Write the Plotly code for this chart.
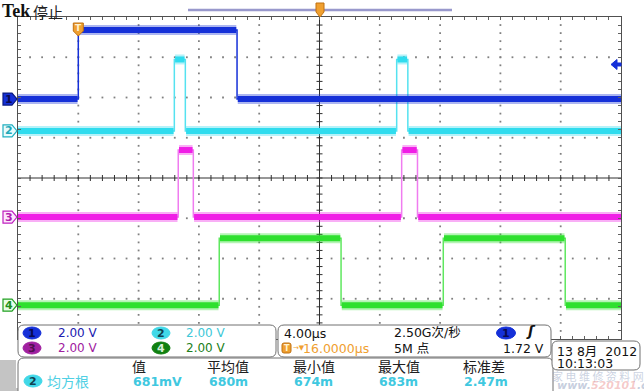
import numpy as np
import plotly.graph_objects as go

# ---------------- data ----------------
T_MIN, T_MAX = -4.0, 36.0      # µs relative to trigger, 10 div x 4.00 µs
TIME_PER_DIV = 4.0
VOLT_PER_DIV = 2.0

ch1_offset = 1.96              # ground marker position, divisions
ch1_edges = [0.0, 10.53]
ch1_levels = [0.0, 3.43, 0.0]

ch2_offset = 1.17
ch2_edges = [6.37, 7.10, 21.12, 21.86]
ch2_levels = [0.0, 3.55, 0.0, 3.55, 0.0]

ch3_offset = -0.97
ch3_edges = [6.63, 7.63, 21.45, 22.50]
ch3_levels = [0.0, 3.33, 0.0, 3.33, 0.0]

ch4_offset = -3.16
ch4_edges = [9.35, 17.43, 24.21, 32.30]
ch4_levels = [0.0, 3.33, 0.0, 3.33, 0.0]

trig_level_v = 1.72
scale_labels = ["2.00 V", "2.00 V", "2.00 V", "2.00 V"]
timebase_label = "4.00µs"
sample_rate_label = "2.50G次/秒"
record_label = "5M 点"
trig_delay_label = "16.0000µs"
trig_level_label = "1.72 V"
meas_headers = ["值", "平均值", "最小值", "最大值", "标准差"]
meas_values = ["681mV", "680m", "674m", "683m", "2.47m"]
meas_name = "均方根"
date_label = "13 8月  2012"
time_label = "10:13:03"

# ---------------- styling ----------------
C1, C2, C3, C4 = "#1530d8", "#2fdcee", "#f01ee6", "#2ee02e"
C1_edge, C2_edge, C3_edge, C4_edge = "#1530d8", "#55e2f0", "#f07cf0", "#5fe85f"
ORANGE = "#f0a030"
SANS = "DejaVu Sans, Noto Sans CJK SC"
CJK = "Noto Sans CJK SC"

L, R, T, B = 18, 621, 17, 339
W, H = 644, 391


def X(px):
    return (px - L) / (R - L)


def Y(py):
    return (B - py) / (B - T)


def step_xy(edges, levels, offset):
    t = [T_MIN]
    v = [levels[0]]
    for e, a, b in zip(edges, levels[:-1], levels[1:]):
        t += [e, e]
        v += [a, b]
    t.append(T_MAX)
    v.append(levels[-1])
    return t, [offset + x / VOLT_PER_DIV for x in v]


def level_segments(edges, levels, offset, inset=0.05):
    bounds = [T_MIN] + list(edges) + [T_MAX]
    xs, ys = [], []
    for i, lv in enumerate(levels):
        a = bounds[i] + (inset if i > 0 else 0)
        b = bounds[i + 1] - (inset if i < len(levels) - 1 else 0)
        y = offset + lv / VOLT_PER_DIV
        xs += [a, b, None]
        ys += [y, y, None]
    return xs, ys


fig = go.Figure()

# graticule dots
dx, dy = [], []
for k in range(1, 10):
    if k == 5:
        continue
    t = T_MIN + k * TIME_PER_DIV
    for j in range(1, 40):
        dx.append(t)
        dy.append(-4 + j * 0.2)
for k in range(1, 8):
    if k == 4:
        continue
    for i in range(1, 50):
        dx.append(T_MIN + i * TIME_PER_DIV / 5)
        dy.append(-4 + k)
fig.add_trace(go.Scatter(x=dx, y=dy, mode="markers",
                         marker=dict(symbol="square", size=1.8, color="#808080"),
                         hoverinfo="skip", showlegend=False))

# centre cross with minor ticks
tc = T_MIN + 5 * TIME_PER_DIV
hx = 3 / ((R - L) / (T_MAX - T_MIN))
hy = 3 / ((B - T) / 8)
cx, cy = [tc, tc, None, T_MIN, T_MAX, None], [-4, 4, None, 0, 0, None]
for j in range(1, 40):
    yy = -4 + j * 0.2
    cx += [tc - hx, tc + hx, None]
    cy += [yy, yy, None]
for i in range(1, 50):
    xx = T_MIN + i * TIME_PER_DIV / 5
    cx += [xx, xx, None]
    cy += [-hy, hy, None]
fig.add_trace(go.Scatter(x=cx, y=cy, mode="lines", line=dict(color="#303030", width=1),
                         hoverinfo="skip", showlegend=False))

# waveforms
channels = [
    (ch4_edges, ch4_levels, ch4_offset, C4, C4_edge),
    (ch3_edges, ch3_levels, ch3_offset, C3, C3_edge),
    (ch2_edges, ch2_levels, ch2_offset, C2, C2_edge),
    (ch1_edges, ch1_levels, ch1_offset, C1, C1_edge),
]
for edges, levels, off, col, ecol in channels:
    t, y = step_xy(edges, levels, off)
    fig.add_trace(go.Scatter(x=t, y=y, mode="lines", line=dict(color=ecol, width=1.5),
                             hoverinfo="skip", showlegend=False))
    sx, sy = level_segments(edges, levels, off)
    fig.add_trace(go.Scatter(x=sx, y=sy, mode="lines", line=dict(color=col, width=10),
                             opacity=0.35, hoverinfo="skip", showlegend=False))
    fig.add_trace(go.Scatter(x=sx, y=sy, mode="lines", line=dict(color=col, width=6),
                             hoverinfo="skip", showlegend=False))

shapes = []
ann = []


def rrect(x0, y0, x1, y1, r, line="#707070", fill="white", width=1):
    p = (f"M {X(x0 + r)},{Y(y0)} L {X(x1 - r)},{Y(y0)} Q {X(x1)},{Y(y0)} {X(x1)},{Y(y0 + r)} "
         f"L {X(x1)},{Y(y1 - r)} Q {X(x1)},{Y(y1)} {X(x1 - r)},{Y(y1)} "
         f"L {X(x0 + r)},{Y(y1)} Q {X(x0)},{Y(y1)} {X(x0)},{Y(y1 - r)} "
         f"L {X(x0)},{Y(y0 + r)} Q {X(x0)},{Y(y0)} {X(x0 + r)},{Y(y0)} Z")
    shapes.append(dict(type="path", path=p, xref="paper", yref="paper",
                       line=dict(color=line, width=width), fillcolor=fill, layer="above"))


def poly(pts, fill, line, width=1):
    p = "M " + " L ".join(f"{X(a)},{Y(b)}" for a, b in pts) + " Z"
    shapes.append(dict(type="path", path=p, xref="paper", yref="paper",
                       line=dict(color=line, width=width), fillcolor=fill, layer="above"))


def text(px, py, s, size=12, color="black", family=SANS, anchor="left", bold=False):
    if bold:
        s = f"<b>{s}</b>"
    ann.append(dict(x=X(px), y=Y(py), xref="paper", yref="paper", text=s, showarrow=False,
                    xanchor=anchor, yanchor="middle", borderpad=0,
                    font=dict(size=size, color=color, family=family)))


def badge(cxp, cyp, label, fill, tcol, w=18, h=12):
    shapes.append(dict(type="circle", xref="paper", yref="paper",
                       x0=X(cxp - w / 2), x1=X(cxp + w / 2), y0=Y(cyp + h / 2), y1=Y(cyp - h / 2),
                       fillcolor=fill, line=dict(color=fill, width=1), layer="above"))
    text(cxp, cyp, label, size=11, color=tcol, anchor="center", bold=True)


# left channel markers
def ch_marker(yc, fill, line, label, tcol):
    poly([(3, yc - 6), (12, yc - 6), (17, yc), (12, yc + 6), (3, yc + 6)], fill, line, 1.2)
    text(9, yc, label, size=11, color=tcol, anchor="center", bold=True)


def div_to_py(d):
    return 178 - d * (B - T) / 8


ch_marker(div_to_py(ch1_offset), C1, "#0a1a80", "1", "#0a0a50")
ch_marker(div_to_py(ch2_offset), "#e8fbfd", "#20b0c0", "2", "#20a8b8")
ch_marker(div_to_py(ch3_offset), "#fde8fd", "#c020c0", "3", "#b020b0")
ch_marker(div_to_py(ch4_offset), "#e8fde8", "#20a020", "4", "#209020")

# trigger level arrow (right edge)
ty = div_to_py(ch1_offset + trig_level_v / VOLT_PER_DIV)
poly([(611, ty), (617, ty - 5), (617, ty - 1.5), (621, ty - 1.5), (621, ty + 1.5), (617, ty + 1.5), (617, ty + 5)],
     C1, C1)

# trigger position marker (T) at t=0
tx = L + (0 - T_MIN) / (T_MAX - T_MIN) * (R - L)
poly([(tx - 5, 23), (tx + 5, 23), (tx + 5, 31), (tx, 36), (tx - 5, 31)], ORANGE, "#c07010")
text(tx, 28, "T", size=9, color="#fff2d0", anchor="center", bold=True)

# top record bar and marker
shapes.append(dict(type="line", xref="paper", yref="paper", x0=X(188), x1=X(452), y0=Y(10), y1=Y(10),
                   line=dict(color="#9898cc", width=2.5)))
poly([(316, 3), (324, 3), (324, 12), (320, 17), (316, 12)], ORANGE, "#c07010")

# title
text(1, 11, "<b>Tek</b>", size=18, color="#111111", family="Liberation Serif")
text(32, 11, "停止", size=15, color="#222222", family=CJK)

# lower-left grey strips
shapes.append(dict(type="rect", xref="paper", yref="paper", x0=X(0), x1=X(16), y0=Y(391), y1=Y(360),
                   fillcolor="#c4c4c4", line=dict(width=0), layer="above"))
shapes.append(dict(type="rect", xref="paper", yref="paper", x0=X(0), x1=X(170), y0=Y(391), y1=Y(388),
                   fillcolor="#c4c4c4", line=dict(width=0), layer="above"))

# panel 1: channel scales
rrect(18, 325, 276, 357, 6)
badge(32, 333, "1", C1, "#0a0a50")
text(57, 333, scale_labels[0], color="#2020b0")
badge(161, 333, "2", "#40d8e8", "#104050")
text(185, 333, scale_labels[1], color="#40c8d8")
badge(32, 348, "3", "#a020a0", "#501050")
text(57, 348, scale_labels[2], color="#a020a0")
badge(161, 348, "4", "#108010", "#d8f0d8")
text(185, 348, scale_labels[3], color="#208020")

# panel 2: timebase / trigger
rrect(278, 325, 551, 357, 6)
text(283, 333, timebase_label, size=12.5, color="#111111")
text(393, 332, sample_rate_label, size=12.5, color="#111111")
badge(506, 333, "1", C1, "#0a0a50", w=19)
text(531, 331, "<b><i>ʃ</i></b>", size=14, color="#111111", anchor="center")
rrect(282, 343, 291, 353, 2, line="#c07010", fill=ORANGE)
text(286.5, 348, "T", size=8, color="#fff2d0", anchor="center", bold=True)
text(292, 348, "→▼", size=7, color=ORANGE)
text(302, 348, trig_delay_label, size=12.5, color=ORANGE)
text(393, 348, record_label, size=12.5, color="#111111")
text(545, 348, trig_level_label, size=12.5, color="#111111", anchor="right")

# panel 3: measurements
rrect(18, 358, 553, 402, 6)
hdr_x = [139, 228, 314, 399, 484]
val_x = [132, 208, 293, 378, 463]
for hx_, h in zip(hdr_x, meas_headers):
    text(hx_, 366, h, size=14, color="#202020", family=CJK, anchor="center")
badge(33, 381, "2", "#40d8e8", "#104050")
text(46, 381, meas_name, size=14, color="#50d0e4", family=CJK)
for vx, v in zip(val_x, meas_values):
    text(vx, 381, v, size=12.5, color="#40c8e0", bold=True)

# date box
rrect(552, 341, 640, 370, 6)
text(556, 351, date_label, size=12.5, color="#111111", family=SANS)
text(556, 363, time_label, size=12.5, color="#111111")

# watermark (faint overlay in the source image)
text(598, 376, "家 电 维 修 资 料 网", size=11, color="rgba(150,165,195,0.5)", family=CJK, anchor="center")
text(556, 385, "<b><i>www.<span style='color:rgba(225,90,90,0.6)'>520101</span>.com</i></b>", size=11,
     color="rgba(150,165,195,0.55)", family="DejaVu Sans")

fig.update_layout(
    width=W, height=H, autosize=False,
    margin=dict(l=L, r=W - R, t=T, b=H - B, pad=0),
    paper_bgcolor="white", plot_bgcolor="white",
    xaxis=dict(range=[T_MIN, T_MAX], showgrid=False, zeroline=False, showline=True,
               linecolor="#505050", linewidth=1, mirror="ticks", ticks="inside",
               tick0=T_MIN, dtick=TIME_PER_DIV / 5, ticklen=3, tickcolor="#606060",
               showticklabels=False, fixedrange=True),
    yaxis=dict(range=[-4, 4], showgrid=False, zeroline=False, showline=True,
               linecolor="#505050", linewidth=1, mirror="ticks", ticks="inside",
               tick0=-4, dtick=0.2, ticklen=3, tickcolor="#606060",
               showticklabels=False, fixedrange=True),
    shapes=shapes, annotations=ann, showlegend=False,
)

fig.write_html("out.html", config={"displayModeBar": False},
               post_script="document.body.style.margin='0px';document.body.style.overflow='hidden';")
